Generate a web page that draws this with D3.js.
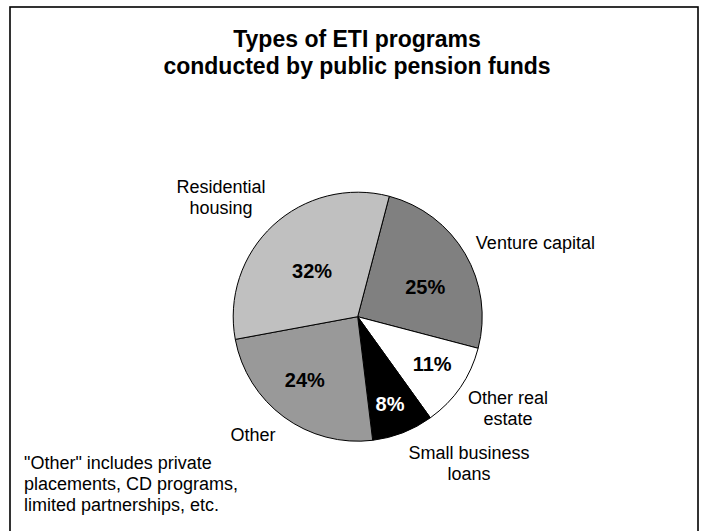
<!DOCTYPE html>
<html>
<head>
<meta charset="utf-8">
<script src="https://cdn.jsdelivr.net/npm/d3@7"></script>
<style>
  html, body { margin: 0; padding: 0; background: #fff; }
  svg { display: block; font-family: "Liberation Sans", Arial, sans-serif; }
</style>
</head>
<body>
<svg id="chart" width="703" height="531"></svg>
<script>
// ---- data ----
const titleLines = ["Types of ETI programs", "conducted by public pension funds"];
const categories = ["Venture capital", "Other real estate", "Small business loans", "Other", "Residential housing"];
const values = [25, 11, 8, 24, 32];
const categoryLabelLines = [["Venture capital"], ["Other real", "estate"], ["Small business", "loans"], ["Other"], ["Residential", "housing"]];
const footnoteLines = ["\"Other\" includes private", "placements, CD programs,", "limited partnerships, etc."];

// ---- styles / layout ----
const sliceColors = ["#808080", "#ffffff", "#000000", "#999999", "#c0c0c0"];
const pctColors = ["#000", "#000", "#fff", "#000", "#000"];
// inside label: radius fraction and angle nudge (deg)
const pctLayout = [{rf: 0.594, da: 6.1}, {rf: 0.707, da: -2.3}, {rf: 0.745, da: 0.9}, {rf: 0.661, da: 3.7}, {rf: 0.519, da: -2.0}];
// outside label: distance from centre and angle (deg, clockwise from 12 o'clock)
const outLayout = [{d: 192.5, a: 67.4}, {d: 175.9, a: 121.3}, {d: 184, a: 142.8}, {d: 157.6, a: 221.6}, {d: 182, a: 311.3}];

const W = 703, H = 531;
const cx = 357.7, cy = 316.7, R = 124.5;
const startDeg = 14.7;

const svg = d3.select("#chart");

// frame (open at the bottom edge of the picture)
svg.append("rect")
  .attr("x", 10).attr("y", 7)
  .attr("width", 688).attr("height", 540)
  .attr("fill", "none").attr("stroke", "#000").attr("stroke-width", 1.6);

// title
svg.append("text")
  .attr("text-anchor", "middle")
  .attr("font-size", 23).attr("font-weight", "bold")
  .selectAll("tspan").data(titleLines).join("tspan")
  .attr("x", 357)
  .attr("y", (d, i) => 47 + i * 27)
  .text(d => d);

const data = categories.map((c, i) => ({category: c, value: values[i], i}));

const start = startDeg * Math.PI / 180;
const pie = d3.pie().value(d => d.value).sort(null)
  .startAngle(start).endAngle(start + 2 * Math.PI);
const arcs = pie(data);
const arc = d3.arc().innerRadius(0).outerRadius(R);

const g = svg.append("g").attr("transform", `translate(${cx},${cy})`);

g.selectAll("path.slice").data(arcs).join("path")
  .attr("class", "slice")
  .attr("d", arc)
  .attr("fill", d => sliceColors[d.data.i])
  .attr("stroke", "#000").attr("stroke-width", 1);

const total = d3.sum(values);
const fmt = v => Math.round(v / total * 100) + "%";

function polar(dist, ang) {
  return [dist * Math.sin(ang), -dist * Math.cos(ang)];
}

// percentage labels
g.selectAll("text.pct").data(arcs).join("text")
  .attr("class", "pct")
  .each(function(d) {
    const L = pctLayout[d.data.i];
    const mid = (d.startAngle + d.endAngle) / 2 + L.da * Math.PI / 180;
    const [x, y] = polar(R * L.rf, mid);
    d3.select(this).attr("x", x).attr("y", y);
  })
  .attr("dy", "0.36em")
  .attr("text-anchor", "middle")
  .attr("font-size", 20).attr("font-weight", "bold")
  .attr("fill", d => pctColors[d.data.i])
  .text(d => fmt(d.data.value));

// category labels outside
const lineH = 21;
g.selectAll("text.cat").data(arcs).join("text")
  .attr("class", "cat")
  .attr("text-anchor", "middle")
  .attr("font-size", 18)
  .each(function(d) {
    const L = outLayout[d.data.i];
    const [x, y] = polar(L.d, L.a * Math.PI / 180);
    const lines = categoryLabelLines[d.data.i];
    const n = lines.length;
    d3.select(this).selectAll("tspan").data(lines).join("tspan")
      .attr("x", x)
      .attr("y", (t, k) => y + 6.5 + (k - (n - 1) / 2) * lineH)
      .text(t => t);
  });

// footnote
svg.append("text")
  .attr("font-size", 18)
  .selectAll("tspan").data(footnoteLines).join("tspan")
  .attr("x", 24)
  .attr("y", (d, i) => 469.3 + i * 20.7)
  .text(d => d);
</script>
</body>
</html>
